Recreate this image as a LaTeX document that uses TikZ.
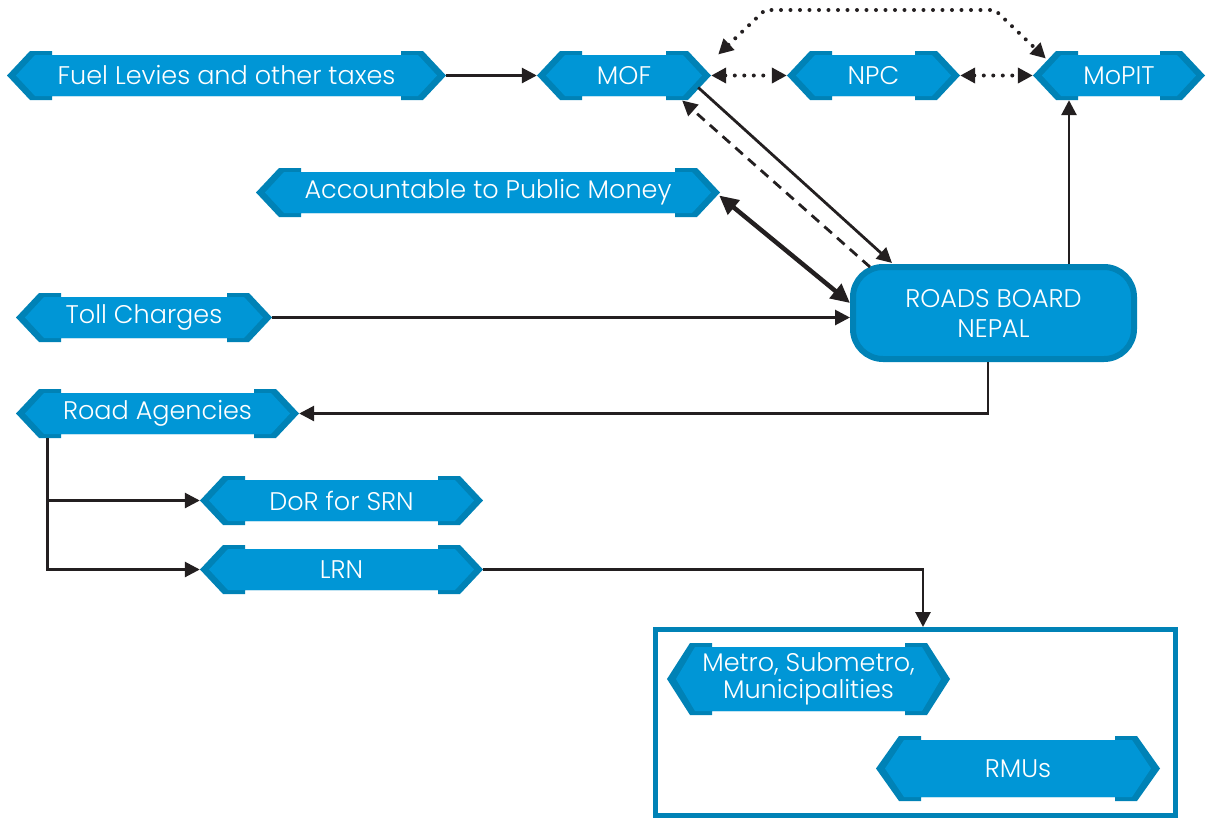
\documentclass[tikz,border=0pt]{standalone}
\usepackage{fontspec}
\setmainfont{Poppins Light}
\usetikzlibrary{arrows.meta,calc}
\definecolor{bdark}{HTML}{0082B6}
\definecolor{blight}{HTML}{0096D6}
\definecolor{ink}{HTML}{231F20}
\tikzset{
  btext/.style={inner sep=0pt, text=white, align=center, font=\fontsize{25.5}{27}\selectfont},
  conn/.style={draw=ink, line width=2.8pt, -{Triangle[length=15pt,width=15pt]}},
  dotc/.style={draw=ink, line width=4pt, dash pattern=on 0pt off 9.5pt, line cap=round,
    {Triangle[length=15pt,width=15pt]}-{Triangle[length=15pt,width=15pt]}},
  dashc/.style={draw=ink, line width=2.8pt, dash pattern=on 10pt off 7pt, -{Triangle[length=15pt,width=15pt]}},
  thickc/.style={draw=ink, line width=4.5pt, {Triangle[length=19pt,width=18pt]}-{Triangle[length=19pt,width=18pt]}},
}
\newcommand\bnr[6]{%
  \pgfmathsetmacro\bM{(#4+#5)/2}%
  \fill[bdark] (#2,\bM) -- ({#2+23},#4) -- ({#2+45},#4) -- ({#2+45},{#4+4}) -- ({#3-45},{#4+4}) -- ({#3-45},#4) -- ({#3-23},#4) -- (#3,\bM) -- ({#3-23},#5) -- ({#3-45},#5) -- ({#3-45},{#5-4}) -- ({#2+45},{#5-4}) -- ({#2+45},#5) -- ({#2+23},#5) -- cycle;
  \fill[blight] ({#2+9},\bM) -- ({#2+28},{#4+4}) -- ({#3-28},{#4+4}) -- ({#3-9},\bM) -- ({#3-28},{#5-4}) -- ({#2+28},{#5-4}) -- cycle;
  \node[btext, minimum width={#3-#2}, minimum height={#5-#4}] (#1) at ({(#2+#3)/2},\bM) {#6};
}
\begin{document}
\begin{tikzpicture}[x=1pt,y=-1pt]
\useasboundingbox (0,0) rectangle (1208,820);
\node[draw=bdark, line width=5pt, minimum width=520, minimum height=186, inner sep=0pt] (box) at (915.5,722.5) {};
\bnr{fuel}{7}{446}{51}{100}{Fuel Levies and other taxes}
\bnr{mof}{537}{711}{51}{100}{MOF}
\bnr{npc}{787}{960}{51}{100}{NPC}
\bnr{mopit}{1033}{1205}{51}{100}{MoPIT}
\bnr{acc}{256}{720}{168}{217}{Accountable to Public Money}
\bnr{toll}{16}{272}{293}{342}{Toll Charges}
\bnr{roadag}{16}{299}{389}{438}{Road Agencies}
\bnr{dor}{200}{483}{476}{525}{DoR for SRN}
\bnr{lrn}{200}{483}{545}{594}{LRN}
\bnr{metro}{667}{950}{643}{715}{Metro, Submetro,\\Municipalities}
\bnr{rmu}{876}{1160}{736}{801}{RMUs}
\node[btext, draw=bdark, line width=6pt, fill=blight, rounded corners=30pt, minimum width=281, minimum height=92, font=\fontsize{25.5}{30}\selectfont] (rbn) at (993.5,313) {ROADS BOARD\\NEPAL};
% connectors
\draw[conn] (fuel.east) -- (mof.west);
\draw[dotc] (mof.east) -- (npc.west);
\draw[dotc] (npc.east) -- (mopit.west);
\coordinate (d1) at ($(mof.east)+(7,-21)$);
\coordinate (d2) at ($(mopit.west)+(13,-17)$);
\coordinate (t1) at (765,10);
\coordinate (t2) at (995,10);
\draw[dotc] (d1) -- (t1) -- (t2) -- (d2);
\coordinate (m1) at ($(mof.east)+(-13,12)$);
\coordinate (r1) at ($(rbn.north west)+(42,-1)$);
\draw[conn] (m1) -- (r1);
\coordinate (r2) at ($(rbn.north west)+(20,3)$);
\coordinate (m2) at ($(mof.east)+(-29,25)$);
\draw[dashc] (r2) -- (m2);
\draw[thickc] ($(acc.east)+(-1,3)$) -- ($(rbn.west)+(0,-10)$);
\draw[conn] (toll.east) -- (toll.east -| rbn.west);
\coordinate (p1) at ($(mopit.south)+(-50,0)$);
\draw[conn] (rbn.north -| p1) -- (p1);
\draw[conn] ($(rbn.south)+(-5.5,0)$) |- (roadag.east);
\coordinate (ra) at ($(roadag.south west)+(32,0)$);
\draw[conn] (ra) |- (dor.west);
\draw[conn] (ra) |- (lrn.west);
\draw[conn] (lrn.east) -| ($(box.north)+(7.5,0)$);
\end{tikzpicture}
\end{document}
